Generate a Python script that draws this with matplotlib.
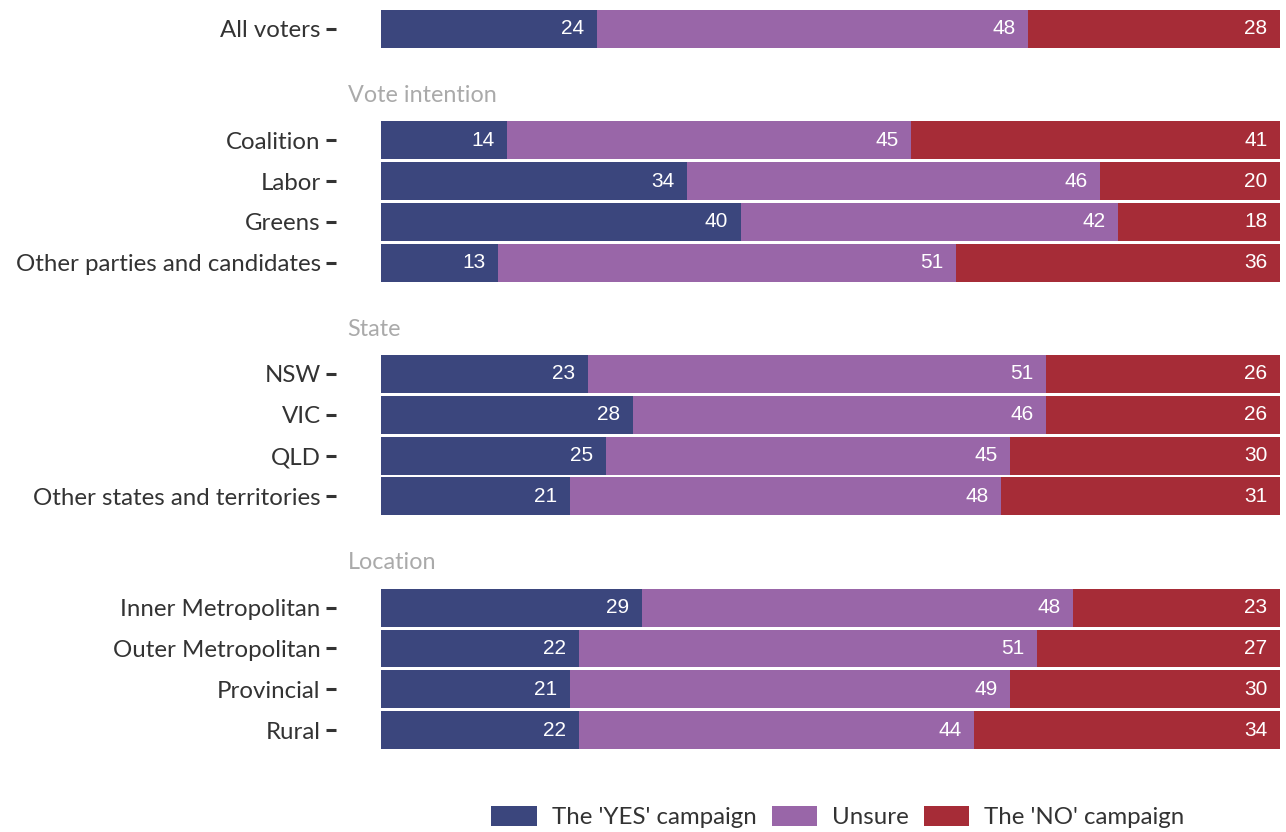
import matplotlib
matplotlib.use("Agg")
import matplotlib.pyplot as plt
from matplotlib.patches import Patch

categories = ["All voters",
              "Coalition", "Labor", "Greens", "Other parties and candidates",
              "NSW", "VIC", "QLD", "Other states and territories",
              "Inner Metropolitan", "Outer Metropolitan", "Provincial", "Rural"]
groups = [None, "Vote intention", "Vote intention", "Vote intention", "Vote intention",
          "State", "State", "State", "State",
          "Location", "Location", "Location", "Location"]
yes_vals = [24, 14, 34, 40, 13, 23, 28, 25, 21, 29, 22, 21, 22]
unsure_vals = [48, 45, 46, 42, 51, 51, 46, 45, 48, 48, 51, 49, 44]
no_vals = [28, 41, 20, 18, 36, 26, 26, 30, 31, 23, 27, 30, 34]
series_names = ["The 'YES' campaign", "Unsure", "The 'NO' campaign"]
colors = ["#3b467d", "#9966a8", "#a62c37"]

label_font = "Lato"
num_font = "Liberation Sans"

# layout: row positions with group gaps
row_step = 1.0
group_gap = 1.73
ypos = []
y = 0.0
prev = "__start__"
for g in groups:
    if prev != "__start__":
        y += row_step
        if g != prev:
            y += group_gap
    ypos.append(y)
    prev = g

fig = plt.figure(figsize=(12.86, 8.32), dpi=100)
W, H = 1286, 832
ax = fig.add_axes([336 / W, 1 - 749 / H, (1280 - 336) / W, (749 - 10) / H])

bh = 0.93
lefts = [0] * len(categories)
for vals, col, name in zip([yes_vals, unsure_vals, no_vals], colors, series_names):
    ax.barh(ypos, vals, left=lefts, height=bh, color=col,
            edgecolor="none", linewidth=0, label=name)
    for yy, l, v in zip(ypos, lefts, vals):
        ax.annotate(str(v), xy=(l + v, yy), xytext=(-9, 0), textcoords="offset points",
                    ha="right", va="center", color="white", fontsize=15,
                    family=num_font)
    lefts = [a + b for a, b in zip(lefts, vals)]

# group headers
seen = set()
for g, yy in zip(groups, ypos):
    if g is not None and g not in seen:
        seen.add(g)
        ax.text(-3.7, yy - 1.1, g, ha="left", va="center", color="#aaaaaa",
                fontsize=16.8, family=label_font)

ax.set_xlim(-5, 100)
ax.set_ylim(ypos[-1] + bh / 2, -bh / 2)
ax.set_yticks(ypos)
ax.set_yticklabels(categories, fontsize=17.3, family=label_font, color="#333333")
ax.tick_params(axis="y", length=7, width=2.2, color="#333333", pad=4)
ax.set_xticks([])
for s in ax.spines.values():
    s.set_visible(False)

handles = [Patch(facecolor=c, edgecolor="none") for c in colors]
fig.legend(handles, series_names, loc="center", bbox_to_anchor=(838 / W, 1 - 817 / H),
           ncol=3, frameon=False, prop={"family": label_font, "size": 17.3},
           handlelength=1.9, handleheight=0.95, handletextpad=0.62, columnspacing=0.62,
           labelcolor="#333333")

fig.savefig("out.png", dpi=100)
